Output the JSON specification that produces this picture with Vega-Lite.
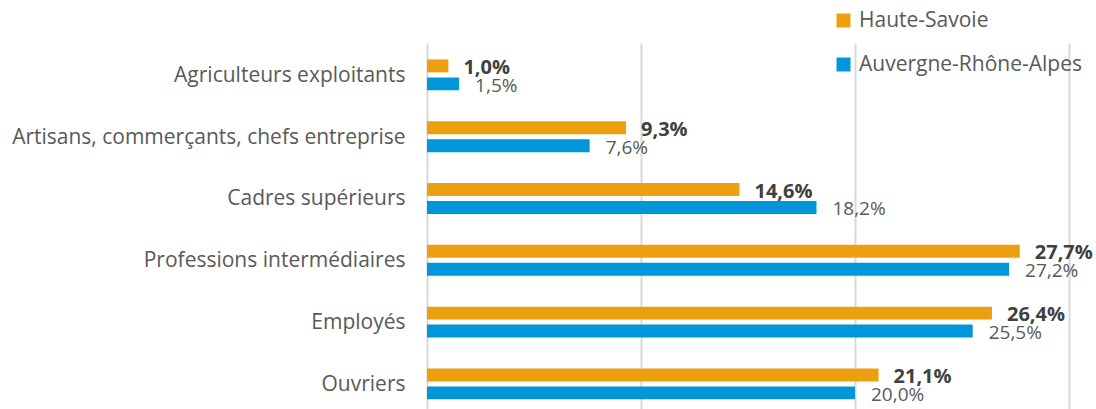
{
  "$schema": "https://vega.github.io/schema/vega-lite/v6.json",
  "autosize": "none",
  "padding": {"left": 427, "top": 43, "right": 27, "bottom": 0},
  "width": 642,
  "height": 366,
  "config": {
    "view": {"stroke": null},
    "font": "Open Sans",
    "locale": {"number": {"decimal": ",", "thousands": " ", "grouping": [3], "currency": ["", " €"]}}
  },
  "data": {
    "values": [
      {"categorie": "Agriculteurs exploitants", "zone": "Haute-Savoie", "part": 0.010},
      {"categorie": "Agriculteurs exploitants", "zone": "Auvergne-Rhône-Alpes", "part": 0.015},
      {"categorie": "Artisans, commerçants, chefs entreprise", "zone": "Haute-Savoie", "part": 0.093},
      {"categorie": "Artisans, commerçants, chefs entreprise", "zone": "Auvergne-Rhône-Alpes", "part": 0.076},
      {"categorie": "Cadres supérieurs", "zone": "Haute-Savoie", "part": 0.146},
      {"categorie": "Cadres supérieurs", "zone": "Auvergne-Rhône-Alpes", "part": 0.182},
      {"categorie": "Professions intermédiaires", "zone": "Haute-Savoie", "part": 0.277},
      {"categorie": "Professions intermédiaires", "zone": "Auvergne-Rhône-Alpes", "part": 0.272},
      {"categorie": "Employés", "zone": "Haute-Savoie", "part": 0.264},
      {"categorie": "Employés", "zone": "Auvergne-Rhône-Alpes", "part": 0.255},
      {"categorie": "Ouvriers", "zone": "Haute-Savoie", "part": 0.211},
      {"categorie": "Ouvriers", "zone": "Auvergne-Rhône-Alpes", "part": 0.200}
    ]
  },
  "encoding": {
    "y": {
      "field": "categorie",
      "type": "nominal",
      "sort": ["Agriculteurs exploitants", "Artisans, commerçants, chefs entreprise", "Cadres supérieurs", "Professions intermédiaires", "Employés", "Ouvriers"],
      "scale": {"paddingInner": 0.5, "paddingOuter": 0.211, "align": 0.63},
      "axis": {"title": null, "domain": false, "ticks": false, "labelPadding": 22, "labelFontSize": 21, "labelColor": "#595959", "labelFont": "Open Sans", "labelLimit": 600, "labelOffset": 1}
    },
    "yOffset": {
      "field": "zone",
      "sort": ["Haute-Savoie", "Auvergne-Rhône-Alpes"],
      "scale": {"paddingInner": 0.28, "paddingOuter": 0}
    },
    "x": {
      "field": "part",
      "type": "quantitative",
      "scale": {"domain": [0, 0.3], "nice": false},
      "axis": {"title": null, "labels": false, "ticks": false, "domain": false, "values": [0, 0.1, 0.2, 0.3], "gridColor": "#D9D9D9", "gridWidth": 2}
    }
  },
  "layer": [
    {
      "mark": {"type": "bar"},
      "encoding": {
        "color": {
          "field": "zone",
          "type": "nominal",
          "scale": {"domain": ["Haute-Savoie", "Auvergne-Rhône-Alpes"], "range": ["#EDA00F", "#0097DA"]},
          "legend": {
            "orient": "none",
            "legendX": 406,
            "legendY": -33,
            "title": null,
            "padding": 0,
            "symbolType": "square",
            "symbolSize": 196,
            "symbolStrokeWidth": 0,
            "labelFontSize": 21,
            "labelFont": "Open Sans",
            "labelColor": "#595959",
            "labelOffset": 5,
            "rowPadding": 22,
            "labelLimit": 400
          }
        }
      }
    },
    {
      "transform": [{"filter": "datum.zone === 'Haute-Savoie'"}],
      "mark": {"type": "text", "align": "left", "baseline": "middle", "dx": 15, "dy": 2, "fontSize": 20, "fontWeight": "bold", "color": "#404040"},
      "encoding": {"text": {"field": "part", "type": "quantitative", "format": ".1%"}}
    },
    {
      "transform": [{"filter": "datum.zone === 'Auvergne-Rhône-Alpes'"}],
      "mark": {"type": "text", "align": "left", "baseline": "middle", "dx": 16, "dy": 2, "fontSize": 19, "color": "#595959"},
      "encoding": {"text": {"field": "part", "type": "quantitative", "format": ".1%"}}
    }
  ]
}
